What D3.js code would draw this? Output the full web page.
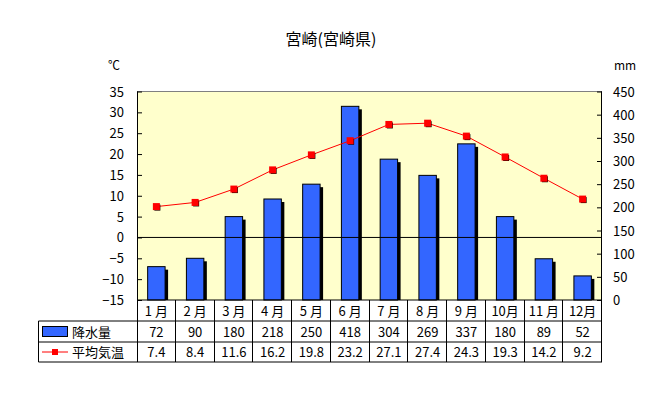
<!DOCTYPE html>
<html><head><meta charset="utf-8">
<script src="https://cdn.jsdelivr.net/npm/d3@7"></script>
<style>
body{margin:0;background:#fff;}
text{font-family:"Noto Sans CJK JP","DejaVu Sans",sans-serif;fill:#000;}
</style></head>
<body><svg id="c" width="654" height="399"></svg>
<script>
const months = ["1月","2月","3月","4月","5月","6月","7月","8月","9月","10月","11月","12月"];
const monthLabels = ["1 月","2 月","3 月","4 月","5 月","6 月","7 月","8 月","9 月","10月","11 月","12月"];
const precip = [72,90,180,218,250,418,304,269,337,180,89,52];
const temp = [7.4,8.4,11.6,16.2,19.8,23.2,27.1,27.4,24.3,19.3,14.2,9.2];
const leftTicks = [-15,-10,-5,0,5,10,15,20,25,30,35];
const rightTicks = [0,50,100,150,200,250,300,350,400,450];
const title = "宮崎(宮崎県)";
const precipName = "降水量", tempName = "平均気温";

const svg = d3.select("#c");
const L = 137, R = 602, T = 91.5, B = 300;
const x = d3.scaleBand().domain(months).range([L, R]);
const yT = d3.scaleLinear().domain([-15, 35]).range([B, T]);
const yP = d3.scaleLinear().domain([0, 450]).range([B, T]);

svg.append("rect").attr("x", L).attr("y", T).attr("width", R - L).attr("height", B - T).attr("fill", "#ffffcc");

// title & units
svg.append("text").attr("x", 331).attr("y", 45).attr("text-anchor", "middle").style("font-size", "16px").text(title);
svg.append("text").attr("x", 108).attr("y", 70).style("font-size", "12px").text("℃");
svg.append("text").attr("x", 614).attr("y", 70).style("font-size", "12px").text("mm");

// bars (shadow then bar)
const bw = x.bandwidth() * 0.45;
const bars = svg.append("g");
precip.forEach((v, i) => {
  const cx = x(months[i]) + x.bandwidth() / 2;
  bars.append("rect").attr("x", cx - bw / 2 + 3).attr("y", yP(v) + 3).attr("width", bw).attr("height", B - yP(v) - 3).attr("fill", "#000");
  bars.append("rect").attr("x", cx - bw / 2).attr("y", yP(v)).attr("width", bw).attr("height", B - yP(v)).attr("fill", "#3366ff").attr("stroke", "#000").attr("stroke-width", 1);
});

// zero line
svg.append("line").attr("x1", L).attr("x2", R).attr("y1", yT(0)).attr("y2", yT(0)).attr("stroke", "#000");
// top border
svg.append("line").attr("x1", L).attr("x2", R).attr("y1", T).attr("y2", T).attr("stroke", "#808080");

// left axis
const gl = svg.append("g").attr("transform", `translate(${L},0)`)
  .call(d3.axisRight(yT).tickValues(leftTicks).tickSize(5).tickFormat(""));
gl.selectAll("path,line").attr("stroke", "#000");
gl.select(".domain").attr("d", `M0.5,${T}V${B}`);
leftTicks.forEach(t => svg.append("text").attr("x", 124).attr("y", yT(t) + 5).attr("text-anchor", "end").style("font-size", "13px").text(t < 0 ? "−" + Math.abs(t) : t));

// right axis
const gr = svg.append("g").attr("transform", `translate(${R},0)`)
  .call(d3.axisLeft(yP).tickValues(rightTicks).tickSize(5).tickFormat(""));
gr.selectAll("path,line").attr("stroke", "#000");
gr.select(".domain").attr("d", `M-0.5,${T}V${B}`);
rightTicks.forEach(t => svg.append("text").attr("x", 613).attr("y", yP(t) + 5).attr("text-anchor", "start").style("font-size", "13px").text(t));

// temperature line
const pts = temp.map((v, i) => [x(months[i]) + x.bandwidth() / 2, yT(v)]);
svg.append("path").attr("d", d3.line()(pts)).attr("fill", "none").attr("stroke", "#ff0000").attr("stroke-width", 1);
pts.forEach(p => {
  svg.append("rect").attr("x", p[0] - 2).attr("y", p[1] - 2).attr("width", 6).attr("height", 6).attr("fill", "#000");
  svg.append("rect").attr("x", p[0] - 3.5).attr("y", p[1] - 3.5).attr("width", 7).attr("height", 7).attr("fill", "#ff0000");
});

// bottom line
svg.append("line").attr("x1", L).attr("x2", R).attr("y1", B).attr("y2", B).attr("stroke", "#000");

// table
const r1 = B, r2 = 321, r3 = 342, r4 = 362, TL = 38.5;
const tg = svg.append("g").attr("stroke", "#000").attr("stroke-width", 1);
tg.append("line").attr("x1", TL).attr("x2", R).attr("y1", r2).attr("y2", r2);
tg.append("line").attr("x1", TL).attr("x2", R).attr("y1", r3).attr("y2", r3);
tg.append("line").attr("x1", TL).attr("x2", R).attr("y1", r4).attr("y2", r4);
tg.append("line").attr("x1", TL).attr("x2", TL).attr("y1", r2).attr("y2", r4);
tg.append("line").attr("x1", L + 0.5).attr("x2", L + 0.5).attr("y1", r1).attr("y2", r4);
months.forEach((m, i) => {
  const xx = Math.round(x(m) + x.bandwidth()) - 0.5;
  tg.append("line").attr("x1", xx).attr("x2", xx).attr("y1", r1).attr("y2", r4);
});
months.forEach((m, i) => {
  const cx = x(m) + x.bandwidth() / 2;
  svg.append("text").attr("x", cx).attr("y", 316).attr("text-anchor", "middle").style("font-size", "13px").text(monthLabels[i]);
  svg.append("text").attr("x", cx).attr("y", 337).attr("text-anchor", "middle").style("font-size", "13px").text(precip[i]);
  svg.append("text").attr("x", cx).attr("y", 357).attr("text-anchor", "middle").style("font-size", "13px").text(temp[i].toFixed(1));
});
// legend keys
svg.append("rect").attr("x", 42.5).attr("y", 326.5).attr("width", 25).attr("height", 10).attr("fill", "#3366ff").attr("stroke", "#000");
svg.append("text").attr("x", 72).attr("y", 337).style("font-size", "13px").text(precipName);
svg.append("line").attr("x1", 42).attr("x2", 68).attr("y1", 352).attr("y2", 352).attr("stroke", "#ff0000");
svg.append("rect").attr("x", 52).attr("y", 349).attr("width", 6).attr("height", 6).attr("fill", "#ff0000");
svg.append("text").attr("x", 72).attr("y", 357).style("font-size", "13px").text(tempName);
</script></body></html>
